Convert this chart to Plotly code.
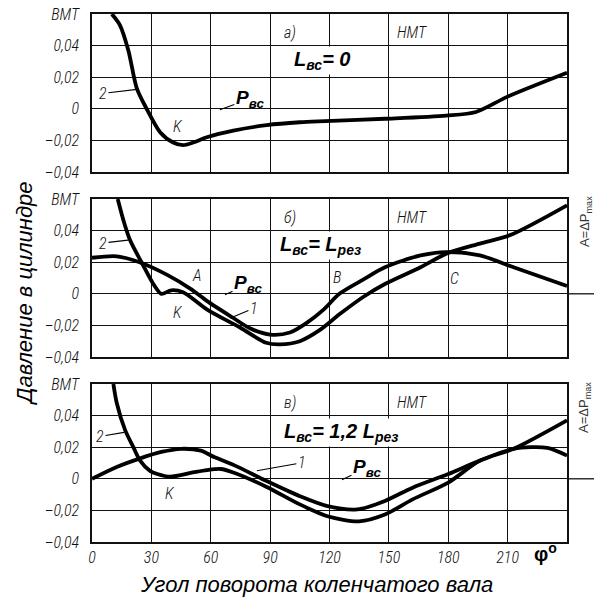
import plotly.graph_objects as go
from plotly.subplots import make_subplots

# ---------------- data ----------------
# panel а) L_вс = 0 : single curve (2 / P_вс)
a_deg = [10, 14.1, 18.4, 22.6, 27.6, 34.4, 41, 46, 51.2, 58, 71.4, 88.3, 105, 118, 148, 179, 194, 210, 240]
a_val = [0.06, 0.053, 0.0368, 0.0131, 0.0, -0.0148, -0.0213, -0.023, -0.0213, -0.018, -0.0138, -0.0103, -0.0085,
         -0.0078, -0.0063, -0.0043, -0.002, 0.0077, 0.0228]

# panel б) L_вс = L_рез
b1_deg = [0, 12.5, 24, 38, 50, 58, 71, 80, 90, 100, 108.5, 117, 125, 137, 148, 166, 179, 196, 213, 240]
b1_val = [0.0228, 0.0237, 0.020, 0.012, 0.003, -0.0045, -0.015, -0.022, -0.0258, -0.0245, -0.0184, -0.010, 0.0,
          0.009, 0.0168, 0.0243, 0.0264, 0.0243, 0.0168, 0.005]
b2_deg = [13, 16, 19.2, 25, 31, 35, 40, 46, 58, 75, 88, 95, 105, 115, 125, 137, 148, 166, 179, 196, 211, 240]
b2_val = [0.06, 0.046, 0.034, 0.020, 0.0062, 0.0, 0.0022, 0.0010, -0.0098, -0.0215, -0.031, -0.032, -0.030, -0.023,
          -0.013, -0.002, 0.0062, 0.0168, 0.0254, 0.0318, 0.037, 0.056]

# panel в) L_вс = 1,2 L_рез
c1_deg = [0, 12.5, 24, 35, 45, 55, 62, 72, 88, 105, 119, 134, 148, 162, 180, 196, 213, 230, 240]
c1_val = [0, 0.0075, 0.0128, 0.017, 0.019, 0.0178, 0.0136, 0.0085, -0.0013, -0.011, -0.0173, -0.0194, -0.014,
          -0.0056, 0.003, 0.0115, 0.019, 0.0196, 0.0147]
c2_deg = [10.8, 12.5, 16.7, 20.9, 24.3, 29.3, 33, 39.4, 51, 58, 65, 71.4, 88, 105, 119, 135, 148, 162, 180, 196, 213,
          240]
c2_val = [0.06, 0.048, 0.031, 0.02, 0.0115, 0.005, 0.003, 0.0013, 0.004, 0.0055, 0.0062, 0.004, -0.0050, -0.0162,
          -0.0237, -0.0269, -0.0226, -0.013, -0.0024, 0.0115, 0.019, 0.037]

x_ticks = [0, 30, 60, 90, 120, 150, 180, 210]
x_ticktext = ["0", "30", "60", "90", "120", "150", "180", "210"]
y_ticks = [-0.04, -0.02, 0, 0.02, 0.04, 0.06]
y_ticktext = ["–0,04", "–0,02", "0", "0,02", "0,04", "ВМТ"]

# ---------------- figure ----------------
NARROW = "Roboto Condensed, Liberation Sans Narrow, Liberation Sans"
TICKFONT = dict(family=NARROW, size=16, color="#111", style="italic", weight=300)
LABFONT = dict(family=NARROW, size=16, color="#111", style="italic", weight=300)
BOLDFONT = dict(family="Liberation Sans, Arial", size=20, color="#000", style="italic", weight="bold")

fig = make_subplots(rows=3, cols=1, vertical_spacing=27 / 528)

curves = [(1, a_deg, a_val), (2, b1_deg, b1_val), (2, b2_deg, b2_val), (3, c1_deg, c1_val), (3, c2_deg, c2_val)]
for row, xs, ys in curves:
    fig.add_trace(go.Scatter(x=xs, y=ys, mode="lines", line=dict(color="#000", width=3.8, shape="spline",
                                                                 smoothing=0.8),
                             showlegend=False, hoverinfo="skip", cliponaxis=True), row=row, col=1)

for r in (1, 2, 3):
    fig.update_xaxes(range=[0, 240], tickvals=x_ticks, ticktext=x_ticktext, showgrid=True, gridcolor="#111",
                     gridwidth=1.3, showline=True, linecolor="#111", linewidth=1.5, mirror=True, zeroline=False,
                     ticks="", showticklabels=(r == 3), tickfont=TICKFONT, automargin=False, row=r, col=1)
    fig.update_yaxes(range=[-0.04, 0.06], tickvals=y_ticks, ticktext=y_ticktext, showgrid=True, gridcolor="#111",
                     gridwidth=1.3, showline=True, linecolor="#111", linewidth=1.5, mirror=True, zeroline=False,
                     ticks="", tickfont=TICKFONT, ticklabelstandoff=8, automargin=False, row=r, col=1)

ann = []
# panel labels
for yr, lab in (("y", "а)"), ("y2", "б)"), ("y3", "в)")):
    xr = "x" + yr[1:]
    ann.append(dict(x=100, y=0.048, xref=xr, yref=yr, text=lab, showarrow=False, font=LABFONT))
    ann.append(dict(x=161.6, y=0.048, xref=xr, yref=yr, text="НМТ", showarrow=False, font=LABFONT))

ann.append(dict(x=101, y=0.0303, xref="x", yref="y", xanchor="left", text="L<sub>вс</sub>= 0", showarrow=False,
                font=BOLDFONT, bgcolor="white"))
ann.append(dict(x=94, y=0.0307, xref="x2", yref="y2", xanchor="left", text="L<sub>вс</sub>= L<sub>рез</sub>",
                showarrow=False, font=BOLDFONT, bgcolor="white"))
ann.append(dict(x=96, y=0.0294, xref="x3", yref="y3", xanchor="left", text="L<sub>вс</sub>= 1,2 L<sub>рез</sub>",
                showarrow=False, font=BOLDFONT, bgcolor="white"))

PFONT = dict(family="Liberation Sans, Arial", size=19, color="#000", style="italic", weight="bold")
arrow = dict(showarrow=True, arrowhead=0, arrowwidth=1.1, arrowcolor="#000", standoff=0, startstandoff=0)

# panel а
ann.append(dict(x=22.7, y=0.0123, xref="x", yref="y", text="2", ax=-34, ay=4, font=LABFONT, **arrow))
ann.append(dict(x=64.6, y=-0.0006, xref="x", yref="y", text="P<sub>вс</sub>", ax=30, ay=-11, font=PFONT, **arrow))
ann.append(dict(x=43.5, y=-0.011, xref="x", yref="y", text="K", showarrow=False, font=LABFONT))
# panel б
ann.append(dict(x=18.2, y=0.034, xref="x2", yref="y2", text="2", ax=-25, ay=3, font=LABFONT, **arrow))
ann.append(dict(x=67.2, y=-0.0006, xref="x2", yref="y2", text="P<sub>вс</sub>", ax=23, ay=-11, font=PFONT, **arrow))
ann.append(dict(x=71.2, y=-0.0147, xref="x2", yref="y2", text="1", ax=21, ay=-9, font=LABFONT, **arrow))
ann.append(dict(x=53, y=0.0115, xref="x2", yref="y2", text="A", showarrow=False, font=LABFONT))
ann.append(dict(x=43.5, y=-0.012, xref="x2", yref="y2", text="K", showarrow=False, font=LABFONT))
ann.append(dict(x=123.7, y=0.0102, xref="x2", yref="y2", text="B", showarrow=False, font=LABFONT))
ann.append(dict(x=183.3, y=0.0096, xref="x2", yref="y2", text="C", showarrow=False, font=LABFONT))
# panel в
ann.append(dict(x=16.2, y=0.0294, xref="x3", yref="y3", text="2", ax=-24, ay=4, font=LABFONT, **arrow))
ann.append(dict(x=83.3, y=0.0051, xref="x3", yref="y3", text="1", ax=45, ay=-8, font=LABFONT, **arrow))
ann.append(dict(x=126.3, y=-0.0006, xref="x3", yref="y3", text="P<sub>вс</sub>", ax=25, ay=-12, font=PFONT,
                **arrow))
ann.append(dict(x=39.4, y=-0.0096, xref="x3", yref="y3", text="K", showarrow=False, font=LABFONT))

# A = ΔP_max side notes
for yp in (0.606, 0.254):
    ann.append(dict(x=1.038, y=yp, xref="paper", yref="paper", xanchor="center", yanchor="middle",
                    text="A=ΔP<sub>max</sub>", textangle=-90,
                    showarrow=False, font=dict(family="Liberation Sans, Arial", size=13, color="#333")))

# axis titles
ann.append(dict(x=-0.141, y=0.4697, xref="paper", yref="paper", xanchor="center", yanchor="middle",
                text="Давление в цилиндре", textangle=-90,
                showarrow=False, font=dict(family="Liberation Sans, Arial", size=22, color="#000", style="italic")))
ann.append(dict(x=0.4716, y=-0.0814, xref="paper", yref="paper", xanchor="center", yanchor="middle",
                text="Угол поворота коленчатого вала",
                showarrow=False, font=dict(family="Liberation Sans, Arial", size=22, color="#000", style="italic")))
ann.append(dict(x=0.954, y=-0.0208, xref="paper", yref="paper", xanchor="center", yanchor="middle",
                text="φ<sup>o</sup>", showarrow=False,
                font=dict(family="Liberation Sans, Arial", size=20, color="#000", weight="bold")))

shapes = []
for yr in ("y2", "y3"):
    shapes.append(dict(type="line", xref="paper", yref=yr, x0=1, x1=1.06, y0=0, y1=0,
                       line=dict(color="#111", width=1.3)))

fig.update_layout(width=594, height=601, margin=dict(l=92, r=27, t=14, b=59, autoexpand=False),
                  paper_bgcolor="white", plot_bgcolor="white", annotations=ann, shapes=shapes, showlegend=False)

fig.write_html("out.html", config={"displayModeBar": False},
               post_script="document.body.style.margin='0px';document.body.style.overflow='hidden';")
